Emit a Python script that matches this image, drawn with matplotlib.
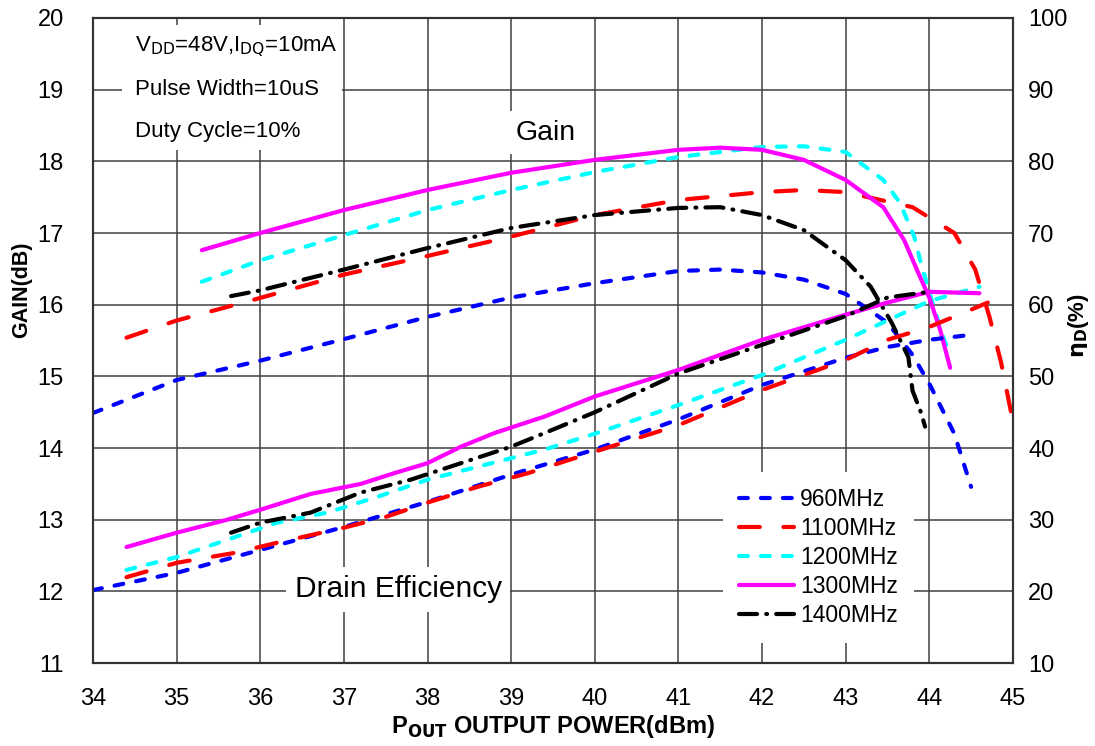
import matplotlib
matplotlib.use("Agg")
import matplotlib.pyplot as plt
from matplotlib.patches import Rectangle

plt.rcParams['font.family'] = ['Liberation Sans', 'DejaVu Sans']
plt.rcParams['lines.scale_dashes'] = False

# ---- data ----
freqs = ['960MHz', '1100MHz', '1200MHz', '1300MHz', '1400MHz']

gain_960_x = [34, 35, 36, 37, 38, 39, 40, 41, 41.5, 42, 42.5, 43, 43.5, 43.8, 44, 44.3, 44.5]
gain_960_y = [14.49, 14.95, 15.22, 15.52, 15.83, 16.1, 16.3, 16.47, 16.49, 16.45, 16.35, 16.15, 15.75, 15.3, 14.9, 14.2, 13.46]

gain_1100_x = [34.4, 35, 35.8, 37, 38, 39, 40, 41, 42, 42.5, 43, 43.8, 44.3, 44.55, 44.72, 44.86, 44.98]
gain_1100_y = [15.54, 15.78, 16.03, 16.42, 16.68, 16.95, 17.25, 17.46, 17.57, 17.6, 17.57, 17.36, 17.0, 16.49, 15.83, 15.19, 14.49]

gain_1200_x = [35.3, 36, 37, 38, 39, 40, 41, 42, 42.5, 43, 43.45, 43.65, 43.82, 43.9, 44.02, 44.14, 44.22]
gain_1200_y = [16.32, 16.62, 16.97, 17.32, 17.6, 17.85, 18.06, 18.2, 18.21, 18.13, 17.74, 17.42, 16.95, 16.58, 16.1, 15.65, 15.37]

gain_1300_x = [35.3, 36, 37, 38, 39, 40, 41, 41.5, 42, 42.5, 43, 43.45, 43.7, 43.87, 44.0, 44.13, 44.25]
gain_1300_y = [16.76, 17.0, 17.32, 17.6, 17.84, 18.02, 18.16, 18.19, 18.16, 18.02, 17.74, 17.36, 16.9, 16.44, 16.1, 15.65, 15.12]

gain_1400_x = [35.65, 36, 37, 38, 39, 40, 41, 41.5, 42, 42.5, 43, 43.3, 43.55, 43.75, 43.8, 43.9, 43.95]
gain_1400_y = [16.12, 16.2, 16.49, 16.79, 17.07, 17.25, 17.35, 17.36, 17.25, 17.04, 16.62, 16.25, 15.75, 15.27, 14.8, 14.5, 14.3]

eff_960_x = [34, 35, 36, 37, 38, 39, 40, 41, 42, 43, 43.5, 44, 44.5]
eff_960_y = [20.2, 22.6, 25.8, 29.0, 32.5, 36.3, 39.8, 44.0, 48.8, 52.6, 54.1, 55.1, 55.8]

eff_1100_x = [34.4, 35, 35.7, 36.2, 37, 37.5, 38, 38.6, 39.2, 40, 41, 42, 43, 43.5, 44, 44.5, 44.7]
eff_1100_y = [22.0, 24.0, 25.4, 26.8, 28.9, 30.4, 32.4, 34.6, 36.5, 39.5, 43.2, 48.1, 52.3, 55.1, 56.9, 59.3, 60.3]

eff_1200_x = [34.4, 35, 35.6, 36.2, 36.8, 37.4, 38, 38.6, 39.4, 40, 41, 42, 43, 43.5, 44, 44.6]
eff_1200_y = [23.0, 24.8, 27.2, 29.6, 31.0, 33.2, 35.6, 37.4, 39.8, 42.0, 46.0, 50.2, 55.1, 57.8, 60.5, 62.5]

eff_1300_x = [34.4, 35, 35.6, 36, 36.6, 37.2, 37.6, 38, 38.4, 38.8, 39.4, 40, 41, 42, 43, 43.5, 44, 44.6]
eff_1300_y = [26.2, 28.2, 30.0, 31.4, 33.6, 35.0, 36.5, 37.9, 40.2, 42.1, 44.4, 47.2, 50.9, 55.1, 58.6, 60.3, 61.8, 61.6]

eff_1400_x = [35.65, 36, 36.6, 37.2, 37.8, 38.4, 39, 39.4, 40, 41, 42, 43, 43.5, 44]
eff_1400_y = [28.2, 29.6, 31.0, 33.8, 35.6, 37.9, 40.2, 42.1, 45.0, 50.4, 54.4, 58.4, 61.0, 61.8]

gain_x = [gain_960_x, gain_1100_x, gain_1200_x, gain_1300_x, gain_1400_x]
gain_y = [gain_960_y, gain_1100_y, gain_1200_y, gain_1300_y, gain_1400_y]
eff_x = [eff_960_x, eff_1100_x, eff_1200_x, eff_1300_x, eff_1400_x]
eff_y = [eff_960_y, eff_1100_y, eff_1200_y, eff_1300_y, eff_1400_y]

colors = ['#0000ff', '#ff0000', '#00ffff', '#ff00ff', '#000000']
dashes = [(6.4, 9.4), (15, 17), (6.4, 9.4), None, (13, 6.6, 0.6, 6.6)]

fig = plt.figure(figsize=(10.95, 7.46), dpi=100)
ax = fig.add_axes([0.085, 0.111, 0.840, 0.865])
ax2 = ax.twinx()

for i in range(5):
    kw = dict(color=colors[i], lw=3, solid_capstyle='round', dash_capstyle='round')
    g, = ax.plot(gain_x[i], gain_y[i], **kw)
    e, = ax2.plot(eff_x[i], eff_y[i], label=freqs[i], **kw)
    if dashes[i]:
        g.set_dashes(dashes[i])
        e.set_dashes(dashes[i])

ax.set_xlim(34, 45)
ax.set_ylim(11, 20)
ax2.set_ylim(10, 100)
ax.set_xticks(range(34, 46))
ax.set_yticks(range(11, 21))
ax2.set_yticks(range(10, 101, 10))
ax.grid(True, color='#404040', lw=1.1)
ax.set_axisbelow(True)
for a in (ax, ax2):
    for s in a.spines.values():
        s.set_color('#333333')
        s.set_linewidth(1.5)
ax.tick_params(axis='x', length=0, pad=18, labelsize=17)
ax.tick_params(axis='y', length=0, pad=21, labelsize=17)
ax2.tick_params(axis='y', length=0, pad=11, labelsize=17)

ax.set_xlabel(r'P$_{\mathbf{OUT}}$ OUTPUT POWER(dBm)', fontsize=17, fontweight='bold', labelpad=2)
ax.set_ylabel('GAIN(dB)', fontsize=15.5, fontweight='bold')
ax.yaxis.set_label_coords(-0.066, 0.578)
ax2.set_ylabel(r'$\mathbf{\eta}_{\mathbf{D}}$(%)', fontsize=16, fontweight='bold')
ax2.yaxis.set_label_coords(1.058, 0.524)

# white area behind the test conditions
ax.add_patch(Rectangle((0.0315, 0.795), 0.239, 0.194, transform=ax.transAxes,
                       facecolor='white', edgecolor='none', zorder=1))
ax.text(34.5, 19.6, r'V$_{\mathrm{DD}}$=48V,I$_{\mathrm{DQ}}$=10mA', fontsize=16, va='center', zorder=3)
ax.text(34.5, 19.0, 'Pulse Width=10uS', fontsize=16, va='center', zorder=3)
ax.text(34.5, 18.41, 'Duty Cycle=10%', fontsize=16, va='center', zorder=3)

box = dict(facecolor='white', edgecolor='none', pad=6)
ax.text(39.41, 18.40, 'Gain', fontsize=20.5, va='center', ha='center', bbox=box, zorder=1.5)
ax.text(37.65, 12.03, 'Drain Efficiency', fontsize=21.5, va='center', ha='center', bbox=box, zorder=1.5)

leg = ax2.legend(loc='upper left', bbox_to_anchor=(0.685, 0.297), borderaxespad=0, frameon=True,
                 fontsize=16.5, handlelength=2.4, labelspacing=0.27, handletextpad=0.25, borderpad=0.7)
leg.get_frame().set_facecolor('white')
leg.get_frame().set_edgecolor('none')
leg.get_frame().set_alpha(1)
leg.get_frame().set_boxstyle('square', pad=0)

fig.savefig('out.png', dpi=100)
